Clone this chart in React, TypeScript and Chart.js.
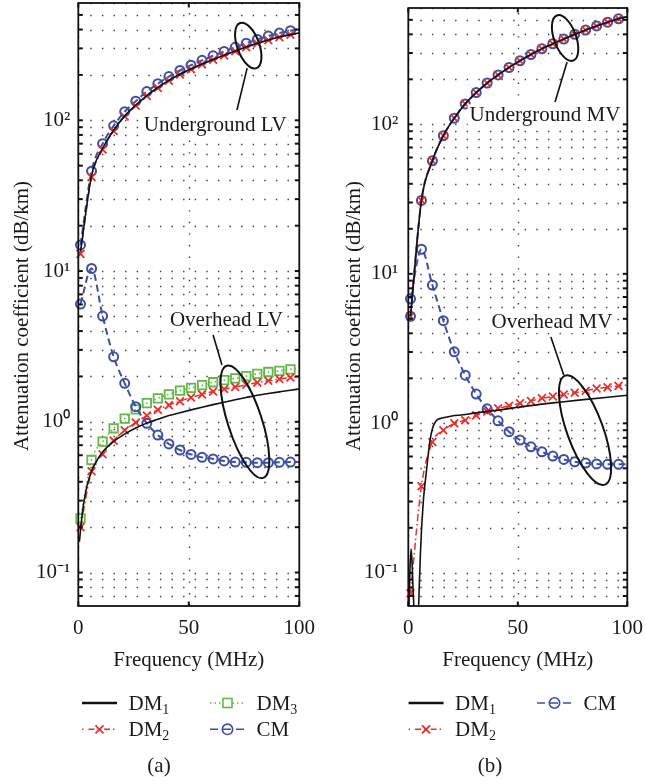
import React, { useEffect, useRef } from 'react';
import { Chart, registerables } from 'chart.js';

Chart.register(...registerables);

const FONT = "'Liberation Serif', 'Times New Roman', serif";
const TXT = '#1a1a1a';

// ---------- data ----------
// marker frequencies (MHz)
const freqMarkers = [1, 6, 11, 16, 21, 26, 31, 36, 41, 46, 51, 56, 61, 66, 71, 76, 81, 86, 91, 96, 100];

// (a) LV
const ugLvCM = [14.9, 46, 70, 92, 114, 134, 155, 175, 195, 214, 232, 250, 268, 286, 305, 325, 344, 362, 379, 393, 402];
const ugLvDM2 = [13, 42, 64, 85, 106, 125, 145, 164, 183, 201, 218, 235, 252, 269, 287, 305, 323, 340, 356, 369, 378];
const ugLvDM1 = [13.5, 43, 65, 86, 107, 126, 146, 165, 184, 202, 219, 236, 253, 270, 288, 306, 324, 341, 357, 370, 380];
const ohLvCM = [6.04, 10.4, 5.03, 2.7, 1.8, 1.26, 0.977, 0.817, 0.713, 0.65, 0.608, 0.581, 0.567, 0.55, 0.541, 0.539, 0.536, 0.536, 0.539, 0.541, 0.541];
const ohLvDM3 = [0.229, 0.558, 0.738, 0.906, 1.05, 1.21, 1.33, 1.43, 1.52, 1.61, 1.68, 1.75, 1.83, 1.89, 1.94, 2.01, 2.08, 2.14, 2.18, 2.23, 2.26];
const ohLvDM2 = [0.2, 0.47, 0.61, 0.75, 0.88, 0.99, 1.1, 1.2, 1.29, 1.37, 1.45, 1.52, 1.59, 1.65, 1.7, 1.76, 1.82, 1.87, 1.92, 1.97, 2.0];
const ohLvDM1Freq = [0.5, 1, 2, 3, 4, 6, 8, 11, 16, 21, 26, 31, 36, 41, 46, 51, 56, 61, 66, 71, 76, 81, 86, 91, 96, 100];
const ohLvDM1 = [0.16, 0.19, 0.26, 0.32, 0.38, 0.47, 0.54, 0.63, 0.74, 0.83, 0.91, 0.98, 1.04, 1.1, 1.15, 1.2, 1.25, 1.3, 1.35, 1.4, 1.45, 1.5, 1.54, 1.58, 1.62, 1.65];

// (b) MV
const ugMvCM = [5.2, 31, 57, 84, 110, 137, 163, 189, 214, 240, 266, 293, 320, 346, 372, 400, 427, 455, 482, 508, 525];
const ugMvDM2 = [5.2, 31, 57, 84, 110, 137, 163, 189, 214, 240, 266, 293, 320, 346, 372, 400, 427, 455, 482, 508, 525];
const ugMvDM1 = [5.2, 31, 57, 84, 110, 137, 163, 189, 214, 240, 266, 293, 320, 346, 372, 400, 427, 455, 482, 508, 525];
const ohMvCM = [6.8, 14.6, 8.41, 4.86, 3.01, 2.1, 1.57, 1.25, 1.04, 0.879, 0.773, 0.697, 0.645, 0.604, 0.574, 0.553, 0.542, 0.535, 0.532, 0.532, 0.532];
const ohMvDM2 = [0.073, 0.38, 0.75, 0.9, 1.0, 1.05, 1.13, 1.2, 1.26, 1.31, 1.36, 1.41, 1.47, 1.51, 1.56, 1.6, 1.65, 1.71, 1.74, 1.78, 1.8];
const ohMvDM1Freq = [0.3, 0.8, 1.3, 1.8, 2.3, 3, 4, 4.6, 5, 5.5, 6, 6.5, 7, 8, 9, 10, 11, 12, 13, 15, 20, 25, 30, 40, 50, 60, 70, 80, 90, 100];
const ohMvDM1 = [0.06, 0.11, 0.145, 0.11, 0.07, 0.05, 0.05, 0.055, 0.08, 0.13, 0.19, 0.25, 0.32, 0.44, 0.6, 0.78, 0.92, 1.0, 1.05, 1.08, 1.12, 1.14, 1.17, 1.22, 1.28, 1.34, 1.39, 1.44, 1.49, 1.54];

// axes
const xTickValues = [0, 50, 100];
const yTickValues = [0.1, 1, 10, 100];
const yTickLabels = ['10\u207B\u00B9', '10\u2070', '10\u00B9', '10\u00B2'];
const yGridValues = [0.06, 0.07, 0.08, 0.09, 0.1, 0.2, 0.3, 0.4, 0.5, 0.6, 0.7, 0.8, 0.9, 1, 2, 3, 4, 5, 6, 7, 8, 9, 10, 20, 30, 40, 50, 60, 70, 80, 90, 100, 200, 300, 400, 500, 600];
const Y_MIN = 0.06;
const Y_MAX = 600;

// ---------- styles ----------
const COLORS = { dm1: '#111111', dm2: '#e8302c', dm3: '#62b946', cm: '#3d4fa5' };

const pts = (f: number[], v: number[]) => v.map((y, i) => ({ x: f[i], y }));
const radii = (f: number[], r: number) => f.map((x) => (x >= 100 ? 0 : r));

const dsDM1 = (f: number[], v: number[]) => ({
  data: pts(f, v), borderColor: COLORS.dm1, borderWidth: 1.6, pointRadius: 0,
  cubicInterpolationMode: 'monotone', fill: false, order: 0,
});
const dsDM2 = (f: number[], v: number[]) => ({
  data: pts(f, v), borderColor: COLORS.dm2, borderWidth: 1.5, borderDash: [7, 3, 1.5, 3],
  pointStyle: 'crossRot', pointRadius: radii(f, 5.5), pointBorderColor: COLORS.dm2,
  pointBorderWidth: 1.8, pointBackgroundColor: 'rgba(0,0,0,0)',
  cubicInterpolationMode: 'monotone', fill: false, order: 1, clip: 10,
});
const dsCM = (f: number[], v: number[]) => ({
  data: pts(f, v), borderColor: COLORS.cm, borderWidth: 2, borderDash: [7, 4],
  pointStyle: 'circle', pointRadius: radii(f, 4.5), pointBorderColor: COLORS.cm,
  pointBorderWidth: 2, pointBackgroundColor: 'rgba(0,0,0,0)',
  cubicInterpolationMode: 'monotone', fill: false, order: 2, clip: 10,
});
const dsDM3 = (f: number[], v: number[]) => ({
  data: pts(f, v), borderColor: COLORS.dm3, borderWidth: 1.6, borderDash: [1.5, 3],
  pointStyle: 'rect', pointRadius: radii(f, 6), pointBorderColor: COLORS.dm3,
  pointBorderWidth: 1.8, pointBackgroundColor: 'rgba(0,0,0,0)',
  cubicInterpolationMode: 'monotone', fill: false, order: 3, clip: 10,
});

// ---------- decoration plugin ----------
const panelDecor = {
  id: 'panelDecor',
  beforeDatasetsDraw(chart: any) {
    const { ctx, chartArea: a, scales } = chart;
    const x = scales.x, y = scales.y;
    ctx.save();
    ctx.beginPath();
    ctx.rect(a.left, a.top, a.right - a.left, a.bottom - a.top);
    ctx.clip();
    ctx.strokeStyle = '#3a3a3a';
    ctx.lineWidth = 1.4;
    ctx.setLineDash([1.4, 10.2]);
    for (const v of yGridValues) {
      const py = Math.round(y.getPixelForValue(v)) + 0.5;
      ctx.beginPath(); ctx.moveTo(a.left + 12, py); ctx.lineTo(a.right, py); ctx.stroke();
    }
    for (const v of xTickValues) {
      const px = Math.round(x.getPixelForValue(v)) + 0.5;
      ctx.beginPath(); ctx.moveTo(px, a.bottom); ctx.lineTo(px, a.top); ctx.stroke();
    }
    ctx.restore();
  },
  afterDatasetsDraw(chart: any, _args: any, opts: any) {
    const { ctx, chartArea: a, scales } = chart;
    const x = scales.x, y = scales.y;
    ctx.save();
    // frame
    ctx.strokeStyle = '#111';
    ctx.lineWidth = 1.8;
    ctx.strokeRect(a.left, a.top, a.right - a.left, a.bottom - a.top);
    // inward tick marks
    ctx.lineWidth = 2;
    const tl = 4.5;
    for (const v of yGridValues) {
      const py = y.getPixelForValue(v);
      if (py < a.top + 1 || py > a.bottom - 1) continue;
      ctx.beginPath(); ctx.moveTo(a.left, py); ctx.lineTo(a.left + tl, py); ctx.stroke();
      ctx.beginPath(); ctx.moveTo(a.right, py); ctx.lineTo(a.right - tl, py); ctx.stroke();
    }
    for (const v of xTickValues) {
      const px = x.getPixelForValue(v);
      ctx.beginPath(); ctx.moveTo(px, a.bottom); ctx.lineTo(px, a.bottom - tl); ctx.stroke();
      ctx.beginPath(); ctx.moveTo(px, a.top); ctx.lineTo(px, a.top + tl); ctx.stroke();
    }
    // annotations
    const an = opts.annotations || {};
    ctx.strokeStyle = '#111';
    for (const e of an.ellipses || []) {
      ctx.lineWidth = 2;
      ctx.beginPath();
      ctx.ellipse(x.getPixelForValue(e.x), y.getPixelForValue(e.y), e.rx, e.ry, (e.rot * Math.PI) / 180, 0, Math.PI * 2);
      ctx.stroke();
    }
    for (const l of an.lines || []) {
      ctx.lineWidth = 1.6;
      ctx.beginPath();
      ctx.moveTo(x.getPixelForValue(l.x1), y.getPixelForValue(l.y1));
      ctx.lineTo(x.getPixelForValue(l.x2), y.getPixelForValue(l.y2));
      ctx.stroke();
    }
    ctx.font = `21px ${FONT}`;
    ctx.textAlign = 'center';
    ctx.textBaseline = 'middle';
    for (const t of an.texts || []) {
      const px = x.getPixelForValue(t.x), py = y.getPixelForValue(t.y);
      const w = ctx.measureText(t.text).width;
      ctx.fillStyle = '#fff';
      ctx.fillRect(px - w / 2 - 2, py - 11, w + 4, 22);
      ctx.fillStyle = TXT;
      ctx.fillText(t.text, px, py);
    }
    ctx.restore();
  },
  afterDraw(chart: any, _args: any, opts: any) {
    const t = opts.yTitle;
    if (!t) return;
    const { ctx } = chart;
    ctx.save();
    ctx.translate(t.x, t.y);
    ctx.rotate(-Math.PI / 2);
    ctx.font = `21px ${FONT}`;
    ctx.fillStyle = TXT;
    ctx.textAlign = 'center';
    ctx.textBaseline = 'middle';
    ctx.fillText(t.text, 0, 0);
    ctx.restore();
  },
};

const tickFont = { family: FONT, size: 21 };

function makeConfig(datasets: any[], p: any) {
  return {
    type: 'line',
    data: { datasets },
    plugins: [panelDecor],
    options: {
      animation: false,
      responsive: false,
      events: [],
      layout: { autoPadding: false, padding: { left: 0, top: p.top, right: p.right, bottom: 0 } },
      plugins: {
        legend: { display: false },
        tooltip: { enabled: false },
        panelDecor: {
          annotations: p.annotations,
          yTitle: { x: p.yTitleX, y: 316, text: 'Attenuation coefficient (dB/km)' },
        },
      },
      scales: {
        x: {
          type: 'linear', min: 0, max: 100,
          grid: { display: false, drawTicks: false },
          border: { display: false },
          ticks: { stepSize: 50, padding: 9.4, font: tickFont, color: TXT, autoSkip: false, maxRotation: 0 },
          title: { display: true, text: 'Frequency (MHz)', font: tickFont, color: TXT, padding: { top: 0, bottom: 17.4 } },
          afterFit: (s: any) => { s.height = p.xAxisH; s.paddingLeft = 0; s.paddingRight = 0; },
        },
        y: {
          type: 'logarithmic', min: Y_MIN, max: Y_MAX,
          grid: { display: false, drawTicks: false },
          border: { display: false },
          ticks: {
            padding: p.tickPad, font: tickFont, color: TXT, autoSkip: false,
            callback: (_v: any, i: number) => yTickLabels[i],
          },
          afterBuildTicks: (s: any) => { s.ticks = yTickValues.map((v) => ({ value: v })); },
          afterFit: (s: any) => { s.width = p.yAxisW; s.paddingTop = 0; s.paddingBottom = 0; },
        },
      },
    },
  };
}

const panelA = {
  left: 0, width: 322, height: 690,
  build: () => makeConfig(
    [
      dsDM1(freqMarkers, ugLvDM1), dsDM1(ohLvDM1Freq, ohLvDM1),
      dsDM2(freqMarkers, ugLvDM2), dsDM2(freqMarkers, ohLvDM2),
      dsCM(freqMarkers, ugLvCM), dsCM(freqMarkers, ohLvCM),
      dsDM3(freqMarkers, ohLvDM3),
    ],
    {
      top: 3, right: 22.7, xAxisH: 84, yAxisW: 78.3, tickPad: 8, yTitleX: 22.5,
      annotations: {
        texts: [{ x: 62, y: 92, text: 'Underground LV' }, { x: 67, y: 4.73, text: 'Overhead LV' }],
        lines: [{ x1: 76.4, y1: 222, x2: 71.8, y2: 117 }, { x1: 61, y1: 3.77, x2: 65, y2: 2.38 }],
        ellipses: [{ x: 76.9, y: 313, rx: 11, ry: 24, rot: -20 }, { x: 75.4, y: 1.0, rx: 17, ry: 59, rot: -18 }],
      },
    },
  ),
};

const panelB = {
  left: 322, width: 323, height: 690,
  build: () => makeConfig(
    [
      dsDM1(freqMarkers, ugMvDM1), dsDM1(ohMvDM1Freq, ohMvDM1),
      dsDM2(freqMarkers, ugMvDM2), dsDM2(freqMarkers, ohMvDM2),
      dsCM(freqMarkers, ugMvCM), dsCM(freqMarkers, ohMvCM),
    ],
    {
      top: 8, right: 17.7, xAxisH: 84, yAxisW: 86.3, tickPad: 10, yTitleX: 32,
      annotations: {
        texts: [{ x: 62.4, y: 115, text: 'Underground MV' }, { x: 65.6, y: 4.76, text: 'Overhead MV' }],
        lines: [{ x1: 72.5, y1: 261, x2: 67, y2: 141 }, { x1: 65.1, y1: 3.78, x2: 71, y2: 2.1 }],
        ellipses: [{ x: 71.6, y: 378, rx: 11, ry: 24, rot: -20 }, { x: 80.7, y: 0.9, rx: 18, ry: 58, rot: -20 }],
      },
    },
  ),
};

function Panel({ spec }: { spec: any }) {
  const ref = useRef<HTMLCanvasElement | null>(null);
  useEffect(() => {
    if (!ref.current) return;
    const chart = new Chart(ref.current, spec.build() as any);
    return () => chart.destroy();
  }, [spec]);
  return (
    <canvas
      ref={ref}
      width={spec.width}
      height={spec.height}
      style={{ position: 'absolute', left: spec.left, top: 0, width: spec.width, height: spec.height }}
    />
  );
}

// ---------- legend ----------
const legendA = [
  { key: 'DM', sub: '1', kind: 'dm1', x: 82, row: 0 },
  { key: 'DM', sub: '3', kind: 'dm3', x: 210, row: 0 },
  { key: 'DM', sub: '2', kind: 'dm2', x: 82, row: 1 },
  { key: 'CM', sub: '', kind: 'cm', x: 210, row: 1 },
];
const legendB = [
  { key: 'DM', sub: '1', kind: 'dm1', x: 408.6, row: 0 },
  { key: 'CM', sub: '', kind: 'cm', x: 537, row: 0 },
  { key: 'DM', sub: '2', kind: 'dm2', x: 408.6, row: 1 },
];
const ROW_Y = [703, 729.3];

function Sample({ kind, x, y }: { kind: string; x: number; y: number }) {
  const w = 35;
  const cx = x + w / 2;
  if (kind === 'dm1') return <line x1={x} y1={y} x2={x + w} y2={y} stroke={COLORS.dm1} strokeWidth={2.5} />;
  if (kind === 'dm2')
    return (
      <g stroke={COLORS.dm2} strokeWidth={1.5}>
        <line x1={x} y1={y} x2={x + w} y2={y} strokeDasharray="1.5 5 6 3" />
        <line x1={cx - 4} y1={y - 4} x2={cx + 4} y2={y + 4} strokeWidth={1.8} />
        <line x1={cx - 4} y1={y + 4} x2={cx + 4} y2={y - 4} strokeWidth={1.8} />
      </g>
    );
  if (kind === 'dm3')
    return (
      <g stroke={COLORS.dm3}>
        <line x1={x} y1={y} x2={x + w} y2={y} strokeDasharray="1.5 3" strokeWidth={1.5} />
        <rect x={cx - 4.5} y={y - 4.5} width={9} height={9} fill="#fff" strokeWidth={1.6} />
      </g>
    );
  return (
    <g stroke={COLORS.cm} strokeWidth={1.6}>
      <line x1={x} y1={y} x2={x + w} y2={y} strokeDasharray="8 5" />
      <circle cx={cx} cy={y} r={5.2} fill="none" />
    </g>
  );
}

function Legend({ items }: { items: any[] }) {
  return (
    <>
      {items.map((it, i) => (
        <g key={i}>
          <Sample kind={it.kind} x={it.x} y={ROW_Y[it.row]} />
          <text x={it.x + 46.5} y={ROW_Y[it.row] + 7} fontFamily={FONT} fontSize={21} fill={TXT}>
            {it.key}
            {it.sub ? <tspan fontSize={14} dy={4}>{it.sub}</tspan> : null}
          </text>
        </g>
      ))}
    </>
  );
}

export default function App() {
  return (
    <div style={{ position: 'absolute', left: 0, top: 0, width: 645, height: 784, background: '#fff', overflow: 'hidden' }}>
      <Panel spec={panelA} />
      <Panel spec={panelB} />
      <svg width={645} height={784} style={{ position: 'absolute', left: 0, top: 0, pointerEvents: 'none' }}>
        <Legend items={legendA} />
        <Legend items={legendB} />
        <text x={159} y={772} textAnchor="middle" fontFamily={FONT} fontSize={21} fill={TXT}>(a)</text>
        <text x={490} y={772} textAnchor="middle" fontFamily={FONT} fontSize={21} fill={TXT}>(b)</text>
      </svg>
    </div>
  );
}
